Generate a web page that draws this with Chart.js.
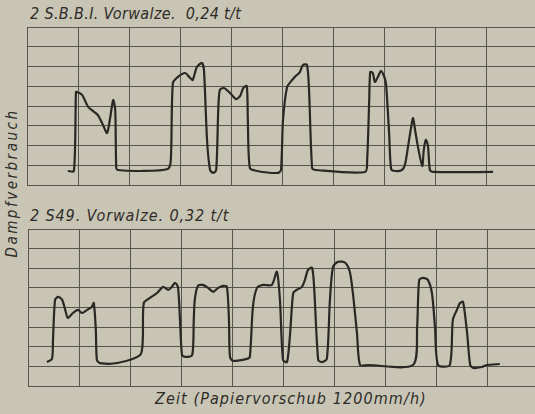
<!DOCTYPE html>
<html>
<head>
<meta charset="utf-8">
<script src="https://cdn.jsdelivr.net/npm/chart.js@4.4.1/dist/chart.umd.min.js"></script>
<style>
  html, body { margin: 0; padding: 0; }
  body { width: 535px; height: 414px; overflow: hidden; position: relative; background: #c9c5b5; }
  .box { position: absolute; }
  .lbl { position: absolute; font-family: "DejaVu Sans Condensed", "DejaVu Sans", sans-serif; font-style: italic; color: #2e2c28; white-space: nowrap; }
</style>
</head>
<body>
<div class="lbl" style="left:30px; top:4px; font-size:16px; letter-spacing:0.35px;">2 S.B.B.I. Vorwalze.&nbsp;&nbsp;0,24 t/t</div>
<div class="lbl" style="left:30px; top:206px; font-size:16px; letter-spacing:0.9px;">2 S49. Vorwalze. 0,32 t/t</div>
<div class="lbl" style="left:155px; top:389px; font-size:16px; letter-spacing:1.1px;">Zeit (Papiervorschub 1200mm/h)</div>
<div class="lbl" style="left:-98px; top:174px; width:220px; text-align:center; font-size:15px; letter-spacing:2.5px; transform:rotate(-90deg);">Dampfverbrauch</div>
<div class="box" style="left:22px; top:22px; width:520px; height:168px;"><canvas id="top"></canvas></div>
<div class="box" style="left:23px; top:224px; width:520px; height:167px;"><canvas id="bottom"></canvas></div>
<script>
// time in grid divisions, steam consumption in grid divisions
var topX = [0.80, 0.92, 0.96, 0.98, 1.08, 1.20, 1.29, 1.39, 1.49, 1.57, 1.63, 1.69, 1.73, 1.75, 1.78, 2.22, 2.76, 2.82, 2.86, 2.96, 3.10, 3.20, 3.25, 3.33, 3.43, 3.47, 3.53, 3.59, 3.65, 3.71, 3.75, 3.78, 3.86, 3.98, 4.10, 4.18, 4.24, 4.31, 4.33, 4.37, 4.51, 4.92, 4.98, 5.02, 5.10, 5.20, 5.25, 5.35, 5.41, 5.49, 5.53, 5.59, 5.65, 6.63, 6.67, 6.71, 6.73, 6.78, 6.82, 6.88, 6.94, 7.00, 7.04, 7.10, 7.14, 7.22, 7.35, 7.41, 7.47, 7.53, 7.57, 7.61, 7.67, 7.75, 7.78, 7.82, 7.86, 7.90, 7.96, 9.14];
var topY = [0.71, 0.71, 4.71, 4.71, 4.56, 3.95, 3.75, 3.54, 3.04, 2.63, 3.39, 4.30, 3.80, 0.86, 0.76, 0.71, 0.81, 1.27, 5.16, 5.47, 5.67, 5.42, 5.32, 5.97, 6.18, 5.82, 2.28, 0.76, 0.61, 0.76, 3.80, 4.81, 4.91, 4.66, 4.35, 4.51, 4.91, 5.01, 3.29, 0.86, 0.71, 0.61, 0.76, 3.29, 4.96, 5.32, 5.47, 5.72, 6.08, 6.08, 4.81, 0.86, 0.76, 0.66, 1.27, 4.30, 5.72, 5.67, 5.22, 5.47, 5.77, 5.52, 5.11, 2.63, 0.81, 0.71, 0.76, 1.01, 1.92, 2.89, 3.39, 2.78, 1.87, 0.96, 1.77, 2.28, 2.03, 0.76, 0.66, 0.66];

var bottomX = [0.37, 0.47, 0.49, 0.53, 0.59, 0.67, 0.73, 0.78, 0.88, 0.98, 1.06, 1.16, 1.25, 1.29, 1.33, 1.35, 1.41, 1.75, 2.20, 2.25, 2.27, 2.39, 2.53, 2.65, 2.75, 2.82, 2.88, 2.94, 2.98, 3.02, 3.08, 3.22, 3.25, 3.27, 3.33, 3.43, 3.53, 3.63, 3.73, 3.82, 3.90, 3.94, 3.96, 4.02, 4.29, 4.35, 4.41, 4.49, 4.61, 4.78, 4.88, 4.94, 5.00, 5.08, 5.14, 5.20, 5.27, 5.37, 5.43, 5.49, 5.57, 5.61, 5.69, 5.76, 5.86, 5.92, 5.98, 6.08, 6.22, 6.31, 6.37, 6.45, 6.51, 6.67, 7.55, 7.63, 7.67, 7.75, 7.84, 7.92, 7.98, 8.04, 8.27, 8.33, 8.41, 8.47, 8.53, 8.61, 8.67, 8.73, 8.90, 9.00, 9.25];
var bottomY = [1.22, 1.38, 2.35, 4.39, 4.54, 4.39, 3.88, 3.47, 3.72, 3.88, 3.72, 3.88, 4.03, 4.23, 2.86, 1.33, 1.17, 1.17, 1.58, 2.35, 4.23, 4.49, 4.74, 5.05, 4.90, 5.05, 5.26, 5.05, 3.37, 1.58, 1.48, 1.58, 3.37, 4.39, 5.10, 5.15, 5.00, 4.80, 5.00, 5.10, 5.05, 3.37, 1.48, 1.28, 1.38, 1.48, 4.03, 5.00, 5.15, 5.15, 5.82, 4.39, 1.33, 1.22, 2.70, 4.74, 4.90, 5.05, 5.41, 5.92, 6.02, 5.05, 1.33, 1.22, 1.38, 4.39, 6.07, 6.33, 6.28, 5.82, 4.74, 2.70, 1.07, 1.07, 1.07, 3.01, 5.41, 5.51, 5.41, 4.74, 3.01, 1.07, 1.07, 3.37, 3.88, 4.23, 4.29, 2.70, 1.07, 0.92, 0.97, 1.07, 1.12];

var gridColor = "#56544c";
var traceColor = "#2a2824";

function toPoints(xs, ys) {
  return xs.map(function(x, i) { return { x: x, y: ys[i] }; });
}

function makeChart(id, xs, ys) {
  return new Chart(document.getElementById(id), {
    type: "line",
    data: {
      datasets: [{
        data: toPoints(xs, ys),
        borderColor: traceColor,
        borderWidth: 2.2,
        pointRadius: 0,
        tension: 0.25,
        fill: false
      }]
    },
    options: {
      responsive: true,
      maintainAspectRatio: false,
      animation: false,
      layout: { padding: { left: 5, top: 5, right: 5, bottom: 5 } },
      plugins: { legend: { display: false }, tooltip: { enabled: false } },
      scales: {
        x: {
          type: "linear", min: 0, max: 10,
          ticks: { display: false, stepSize: 1 },
          grid: { color: gridColor, lineWidth: 1, drawTicks: false },
          border: { color: gridColor, width: 1 }
        },
        y: {
          min: 0, max: 8,
          ticks: { display: false, stepSize: 1 },
          grid: { color: gridColor, lineWidth: 1, drawTicks: false },
          border: { color: gridColor, width: 1 }
        }
      }
    }
  });
}

makeChart("top", topX, topY);
makeChart("bottom", bottomX, bottomY);
</script>
</body>
</html>
